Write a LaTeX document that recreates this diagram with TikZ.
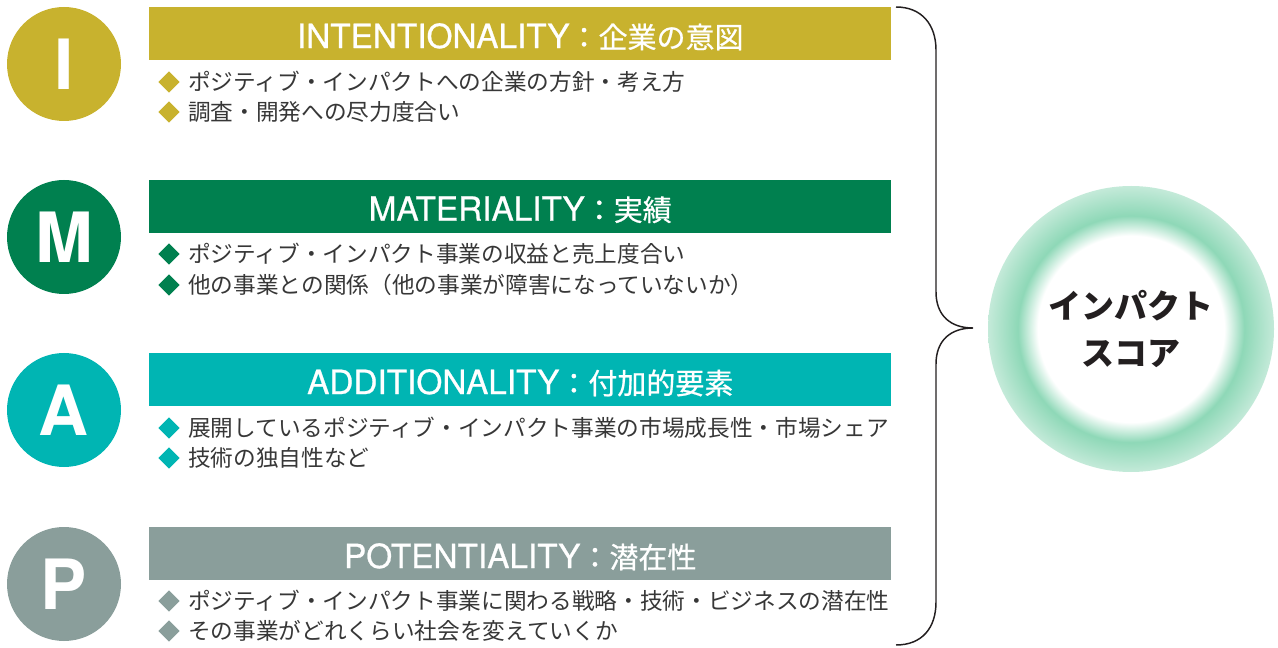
\documentclass[tikz,border=0pt]{standalone}
\usepackage{fontspec}
\setmainfont{Noto Sans CJK JP}
\newfontfamily\heros{TeX Gyre Heros}
\newfontfamily\herosmed{TeX Gyre Heros}[FakeBold=0.7]
\newfontfamily\cjkmed{Noto Sans CJK JP}[FakeBold=0.7]
\usetikzlibrary{shapes.geometric}

\definecolor{imGold}{RGB}{200,178,46}
\definecolor{imGreen}{RGB}{0,128,79}
\definecolor{imTeal}{RGB}{0,181,179}
\definecolor{imGrey}{RGB}{138,158,155}
\definecolor{imText}{RGB}{55,55,55}
\definecolor{imBlack}{RGB}{35,31,32}
\definecolor{glowPeak}{RGB}{142,216,183}
\definecolor{glowEdge}{RGB}{196,234,217}

\pgfdeclareradialshading{impactglow}{\pgfpointorigin}{color(0bp)=(white); color(16.3bp)=(white); color(19.8bp)=(glowPeak); color(25bp)=(glowEdge); color(50bp)=(glowEdge)}

\newcommand{\bartext}[2]{{\fontsize{25}{30}\herosmed #1}{\fontsize{21.75}{30}\cjkmed ：#2}}

\tikzset{
  letter/.style={circle, inner sep=0pt, minimum size=85.5pt, text=white, font=\fontsize{52}{52}\heros\bfseries},
  bar/.style={rectangle, inner sep=0pt, anchor=north west, minimum width=556.5pt, minimum height=39.75pt},
  bartitle/.style={inner sep=0pt, text=white, yshift=-2.25pt},
  bullet/.style={diamond, inner sep=0pt, minimum width=16pt, minimum height=16pt},
  item/.style={anchor=west, inner sep=0pt, text=imText, font=\fontsize{17}{20}\selectfont},
  brace/.style={color=imBlack, line width=1.1pt},
}

\begin{document}
\begin{tikzpicture}[x=0.75pt,y=0.75pt,yscale=-1,xscale=1]
\useasboundingbox (0,0) rectangle (1278,648);

%Shape: Circle I
\node [letter, fill=imGold] (circI) at (64,64) {I};
%Shape: Rectangle I
\node [bar, fill=imGold] (barI) at (149,7) {};
% Text Node
\node [bartitle] (titleI) at (barI.center) {\bartext{INTENTIONALITY}{企業の意図}};
\node [bullet, fill=imGold] (dotI1) at (169,82) {};
\node [item] (itemI1) at (188,82) {ポジティブ・インパクトへの企業の方針・考え方};
\node [bullet, fill=imGold] (dotI2) at (169,112) {};
\node [item] (itemI2) at (188,112) {調査・開発への尽力度合い};

%Shape: Circle M
\node [letter, fill=imGreen] (circM) at (64,237) {M};
%Shape: Rectangle M
\node [bar, fill=imGreen] (barM) at (149,180) {};
% Text Node
\node [bartitle] (titleM) at (barM.center) {\bartext{MATERIALITY}{実績}};
\node [bullet, fill=imGreen] (dotM1) at (169,254) {};
\node [item] (itemM1) at (188,254) {ポジティブ・インパクト事業の収益と売上度合い};
\node [bullet, fill=imGreen] (dotM2) at (169,285) {};
\node [item] (itemM2) at (188,285) {他の事業との関係（他の事業が障害になっていないか）};

%Shape: Circle A
\node [letter, fill=imTeal] (circA) at (64,410) {A};
%Shape: Rectangle A
\node [bar, fill=imTeal] (barA) at (149,353) {};
% Text Node
\node [bartitle] (titleA) at (barA.center) {\bartext{ADDITIONALITY}{付加的要素}};
\node [bullet, fill=imTeal] (dotA1) at (169,428) {};
\node [item] (itemA1) at (188,428) {展開しているポジティブ・インパクト事業の市場成長性・市場シェア};
\node [bullet, fill=imTeal] (dotA2) at (169,458) {};
\node [item] (itemA2) at (188,458) {技術の独自性など};

%Shape: Circle P
\node [letter, fill=imGrey] (circP) at (64,584) {P};
%Shape: Rectangle P
\node [bar, fill=imGrey] (barP) at (149,527) {};
% Text Node
\node [bartitle] (titleP) at (barP.center) {\bartext{POTENTIALITY}{潜在性}};
\node [bullet, fill=imGrey] (dotP1) at (169,601) {};
\node [item] (itemP1) at (188,601) {ポジティブ・インパクト事業に関わる戦略・技術・ビジネスの潜在性};
\node [bullet, fill=imGrey] (dotP2) at (169,631) {};
\node [item] (itemP2) at (188,631) {その事業がどれくらい社会を変えていくか};

%Shape: Brace
\draw [brace] (896,7) .. controls (922,7) and (936,25) .. (936,50) -- (936,292) .. controls (936,315) and (950,328) .. (973,328) .. controls (950,328) and (936,341) .. (936,364) -- (936,602) .. controls (936,628) and (922,645) .. (896,645);

%Shape: Circle score
\node [circle, inner sep=0pt, minimum size=214.5pt, shading=impactglow] (score) at (1131,329) {};
% Text Node
\node [align=center, inner sep=0pt, text=imBlack, font=\fontsize{24.75}{35}\selectfont\bfseries] (scoreText) at (score.center) {インパクト\\スコア};

\end{tikzpicture}
\end{document}
